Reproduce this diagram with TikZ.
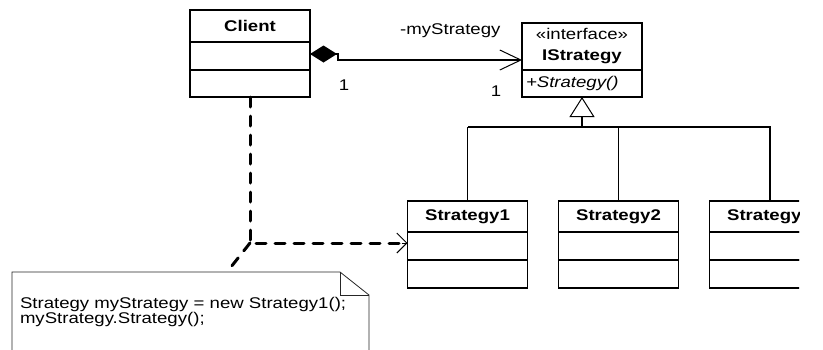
\documentclass[tikz,border=0pt]{standalone}
\usepackage{fontspec}
\setmainfont{Liberation Sans}[FakeStretch=1.2]
\usetikzlibrary{arrows.meta, positioning}

\begin{document}
\begin{tikzpicture}[
    x=1pt, y=-1pt,
    font=\fontsize{15.5}{18}\selectfont,
    classhead/.style={rectangle, draw, line width=1.1pt, minimum width=120pt, minimum height=#1, inner sep=0pt, outer sep=0pt, align=center, font=\fontsize{15.5}{18}\selectfont\bfseries},
    classrow/.style={rectangle, draw, line width=1.1pt, minimum width=120pt, minimum height=#1, inner sep=0pt, outer sep=0pt},
    oprow/.style={rectangle, draw, line width=1.1pt, text width=112pt, minimum height=#1, inner xsep=4pt, inner ysep=0pt, outer sep=0pt, align=left},
    notebox/.style={rectangle, text width=341pt, minimum height=80pt, inner xsep=8pt, inner ysep=0pt, outer sep=0pt, align=left, font=\fontsize{15.5}{15}\selectfont},
    lbl/.style={inner sep=0pt},
    association/.style={line width=2pt, {Diamond[length=27pt, width=17pt]}-{Straight Barb[length=21pt, width=20pt, line width=1pt]}},
    dependency/.style={line width=3pt, dash pattern=on 10pt off 9pt, line cap=round},
    generalization/.style={line width=2pt},
    realization/.style={line width=2pt, -{Triangle[open, length=20pt, width=25pt, line width=1pt]}},
]
    \useasboundingbox (0,0) rectangle (823,349);
    \clip (0,0) rectangle (799,349);

    % Client class
    \node[classhead=32pt] (client) at (250,26) {Client};
    \node[classrow=28pt, below=0pt of client] (clientAttr) {};
    \node[classrow=27pt, below=0pt of clientAttr] (clientOps) {};

    % Interface
    \node[classhead=47pt] (istrat) at (582,46.5) {\mdseries «interface»\\[3pt]IStrategy};
    \node[oprow=27pt, below=0pt of istrat] (istratOps) {\itshape +Strategy()};

    % Concrete strategies
    \node[classhead=31pt] (s1) at (467.5,216.5) {Strategy1};
    \node[classhead=31pt, right=31pt of s1] (s2) {Strategy2};
    \node[classhead=31pt, right=31pt of s2] (s3) {Strategy3};
    \node[classrow=28pt, below=0pt of s1] (s1Attr) {};
    \node[classrow=28pt, below=0pt of s1Attr] (s1Ops) {};
    \node[classrow=28pt, below=0pt of s2] (s2Attr) {};
    \node[classrow=28pt, below=0pt of s2Attr] (s2Ops) {};
    \node[classrow=28pt, below=0pt of s3] (s3Attr) {};
    \node[classrow=28pt, below=0pt of s3Attr] (s3Ops) {};

    % Note
    \node[notebox, anchor=north west] (note) at (12,272) {Strategy myStrategy = new Strategy1();\\myStrategy.Strategy();};
    \draw[line width=0.8pt, black!85] (note.south west) -- (note.north west) -- ([xshift=-29pt]note.north east)
        -- ([yshift=-23pt]note.north east) -- (note.south east) -- cycle;
    \draw[line width=0.8pt, black!85] ([xshift=-29pt]note.north east) |- ([yshift=-23pt]note.north east);

    % Association
    \draw[association] ([yshift=2pt]clientAttr.east) -- ++(28,0) |- ([yshift=-13.5pt]istrat.west);
    \node[lbl, anchor=base west] (roleName) at (400,34) {-myStrategy};
    \node[lbl] (multClient) at (344,85) {1};
    \node[lbl] (multStrat) at (496,91) {1};

    % Generalization
    \coordinate (bus) at ([yshift=-30pt]istratOps.south);
    \draw[realization] (s3.north) |- (bus) -- (istratOps.south);
    \draw[generalization] (bus) -- (bus -| s1.north);
    \draw[line width=1pt] (bus -| s1.north) -- (s1.north);
    \draw[line width=1pt] (bus -| s2.north) -- (s2.north);

    % Dependency and note link
    \coordinate (bend) at (clientOps.south |- s1Attr.west);
    \draw[dependency] (clientOps.south) -- ([yshift=3pt]bend) -- ([yshift=3pt,xshift=-4pt]s1Attr.west);
    \draw[line width=1pt, -{Straight Barb[length=10pt, width=20pt]}] ([yshift=3pt,xshift=-6pt]s1Attr.west) -- ([yshift=3pt]s1Attr.west);
    \draw[dependency] ([yshift=3pt]bend) -- ([xshift=215pt]note.north west);
\end{tikzpicture}
\end{document}
